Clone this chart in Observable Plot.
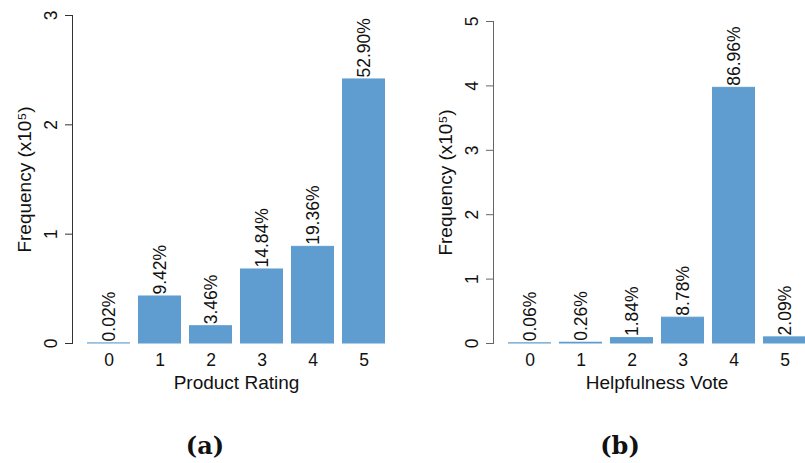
<!DOCTYPE html>
<html><head><meta charset="utf-8">
<script src="https://cdn.jsdelivr.net/npm/d3@7"></script>
<script src="https://cdn.jsdelivr.net/npm/@observablehq/plot@0.6"></script>
<style>
html,body{margin:0;padding:0;background:#fff;}
#wrap{position:relative;width:805px;height:463px;overflow:hidden;background:#fff;}
#left{position:absolute;left:0;top:0;width:400px;}
#right{position:absolute;left:400px;top:0;width:420px;}
#wrap svg{max-width:none !important;}
.cap{position:absolute;top:434px;width:100px;text-align:center;font-family:"DejaVu Serif",serif;font-weight:bold;font-size:24px;line-height:24px;color:#111;}
</style>
</head><body>
<div id="wrap">
  <div id="left"></div>
  <div id="right"></div>
  <div class="cap" style="left:155px">(a)</div>
  <div class="cap" style="left:570px">(b)</div>
</div>
<script>
// Panel (a): Product Rating
const ratingCats = ["0", "1", "2", "3", "4", "5"];
const ratingFreq = [0.001, 0.43, 0.158, 0.677, 0.884, 2.415]; // x10^5
const ratingPct = ["0.02%", "9.42%", "3.46%", "14.84%", "19.36%", "52.90%"];
const ratingTicks = [0, 1, 2, 3];

// Panel (b): Helpfulness Vote
const voteCats = ["0", "1", "2", "3", "4", "5"];
const voteFreq = [0.003, 0.012, 0.084, 0.401, 3.97, 0.095]; // x10^5
const votePct = ["0.06%", "0.26%", "1.84%", "8.78%", "86.96%", "2.09%"];
const voteTicks = [0, 1, 2, 3, 4, 5];

const yTitle = "Frequency (x10\u2075)";
const barColor = "#5f9dd0";
const font = "Liberation Sans, Arial, Helvetica, sans-serif";

function panel({cats, freq, pct, ticks, xTitle, width, marginLeft, marginTop, axisColor}) {
  const data = cats.map((c, i) => ({cat: c, freq: freq[i], pct: pct[i]}));
  const x0 = marginLeft + 12;
  return Plot.plot({
    width, height: 400,
    marginLeft, marginRight: 0, marginTop, marginBottom: 57,
    style: {fontFamily: font, fontSize: "17px", background: "white", color: "#111", overflow: "visible", maxWidth: "none"},
    x: {type: "band", domain: cats, range: [x0, x0 + 304], paddingInner: 0.1538, paddingOuter: 0},
    y: {domain: [0, ticks[ticks.length - 1]]},
    marks: [
      Plot.barY(data, {x: "cat", y: "freq", fill: barColor, stroke: barColor, strokeWidth: 1, insetLeft: 0.5, insetRight: 0.5}),
      Plot.text(data, {x: "cat", y: "freq", text: "pct", rotate: -90, textAnchor: "start", lineAnchor: "middle", dy: -2, fontSize: 17.5, fill: "#111"}),
      // x tick labels (no tick marks, as in the reference)
      Plot.axisX({tickSize: 0, tickFormat: () => "", label: null}),
      Plot.text(cats, {x: d => d, frameAnchor: "bottom", lineAnchor: "top", dy: 10, fontSize: 17.5, fill: "#111"}),
      // y ticks and rotated tick labels
      Plot.axisY({ticks, tickSize: 7, tickFormat: () => "", label: null, stroke: axisColor}),
      Plot.text(ticks, {y: d => d, text: d => String(d), frameAnchor: "left", dx: -16, rotate: -90, textAnchor: "middle", lineAnchor: "bottom", fontSize: 17.5, fill: "#111"}),
      Plot.frame({anchor: "left", stroke: axisColor}),
      Plot.text([yTitle], {frameAnchor: "left", dx: -47.5, rotate: -90, textAnchor: "middle", lineAnchor: "middle", fontSize: 19, fill: "#111"}),
      Plot.text([xTitle], {frameAnchor: "bottom", dy: 45, textAnchor: "middle", lineAnchor: "bottom", fontSize: 19, fill: "#111"})
    ]
  });
}

document.getElementById("left").append(panel({
  cats: ratingCats, freq: ratingFreq, pct: ratingPct, ticks: ratingTicks,
  xTitle: "Product Rating", width: 400, marginLeft: 72, marginTop: 15, axisColor: "#333"
}));
document.getElementById("right").append(panel({
  cats: voteCats, freq: voteFreq, pct: votePct, ticks: voteTicks,
  xTitle: "Helpfulness Vote", width: 420, marginLeft: 93, marginTop: 21, axisColor: "#666"
}));
</script>
</body></html>
